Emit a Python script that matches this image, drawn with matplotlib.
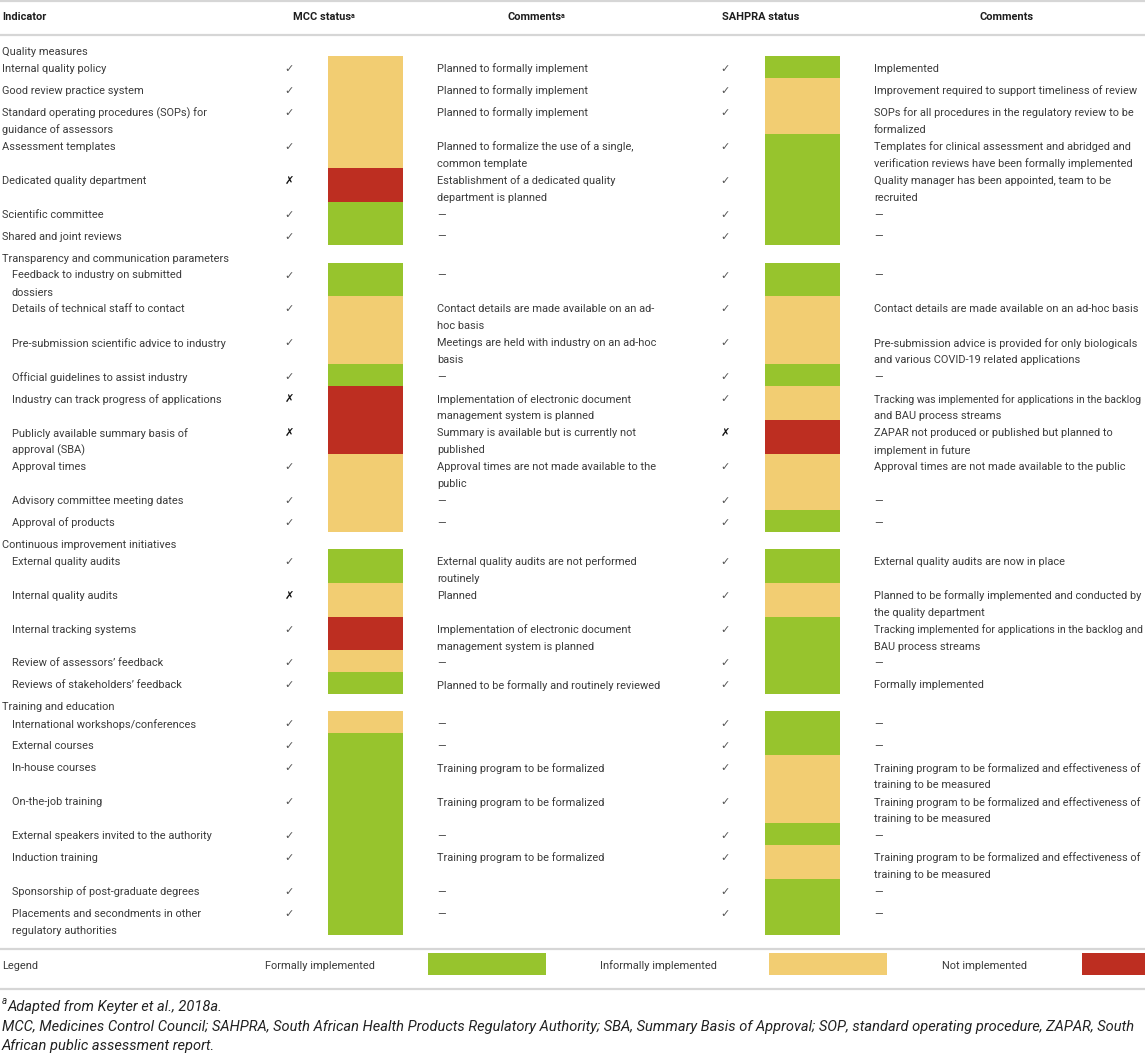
import matplotlib.pyplot as plt

plt.rcParams['font.family'] = ['Roboto', 'DejaVu Sans']

# ---- data -------------------------------------------------------------
sections = ['Quality measures',
            'Transparency and communication parameters',
            'Continuous improvement initiatives',
            'Training and education']
section_starts = [0, 7, 16, 21]

indicators = [
    'Internal quality policy',
    'Good review practice system',
    'Standard operating procedures (SOPs) for\nguidance of assessors',
    'Assessment templates',
    'Dedicated quality department',
    'Scientific committee',
    'Shared and joint reviews',
    'Feedback to industry on submitted\ndossiers',
    'Details of technical staff to contact',
    'Pre-submission scientific advice to industry',
    'Official guidelines to assist industry',
    'Industry can track progress of applications',
    'Publicly available summary basis of\napproval (SBA)',
    'Approval times',
    'Advisory committee meeting dates',
    'Approval of products',
    'External quality audits',
    'Internal quality audits',
    'Internal tracking systems',
    'Review of assessors\u2019 feedback',
    'Reviews of stakeholders\u2019 feedback',
    'International workshops/conferences',
    'External courses',
    'In-house courses',
    'On-the-job training',
    'External speakers invited to the authority',
    'Induction training',
    'Sponsorship of post-graduate degrees',
    'Placements and secondments in other\nregulatory authorities',
]

# Y = yes (check), N = no (cross)
mcc_marks = list('YYYYNYY' 'YYYYNNYYY' 'YNYYY' 'YYYYYYYY')
sahpra_marks = list('YYYYYYY' 'YYYYYNYYY' 'YYYYY' 'YYYYYYYY')

# F = formally, I = informally, N = not implemented
mcc_status = list('IIIINFF' 'FIIFNNIII' 'FINIF' 'IFFFFFFF')
sahpra_status = list('FIIFFFF' 'FIIFINIIF' 'FIFFF' 'FFIIFIFF')

dash = '\u2014'
t_prog = 'Training program to be formalized'
t_prog2 = 'Training program to be formalized and effectiveness of\ntraining to be measured'

mcc_comments = [
    'Planned to formally implement',
    'Planned to formally implement',
    'Planned to formally implement',
    'Planned to formalize the use of a single,\ncommon template',
    'Establishment of a dedicated quality\ndepartment is planned',
    dash, dash,
    dash,
    'Contact details are made available on an ad-\nhoc basis',
    'Meetings are held with industry on an ad-hoc\nbasis',
    dash,
    'Implementation of electronic document\nmanagement system is planned',
    'Summary is available but is currently not\npublished',
    'Approval times are not made available to the\npublic',
    dash, dash,
    'External quality audits are not performed\nroutinely',
    'Planned',
    'Implementation of electronic document\nmanagement system is planned',
    dash,
    'Planned to be formally and routinely reviewed',
    dash, dash, t_prog, t_prog, dash, t_prog, dash, dash,
]

sahpra_comments = [
    'Implemented',
    'Improvement required to support timeliness of review',
    'SOPs for all procedures in the regulatory review to be\nformalized',
    'Templates for clinical assessment and abridged and\nverification reviews have been formally implemented',
    'Quality manager has been appointed, team to be\nrecruited',
    dash, dash,
    dash,
    'Contact details are made available on an ad-hoc basis',
    'Pre-submission advice is provided for only biologicals\nand various COVID-19 related applications',
    dash,
    'Tracking was implemented for applications in the backlog\nand BAU process streams',
    'ZAPAR not produced or published but planned to\nimplement in future',
    'Approval times are not made available to the public',
    dash, dash,
    'External quality audits are now in place',
    'Planned to be formally implemented and conducted by\nthe quality department',
    'Tracking implemented for applications in the backlog and\nBAU process streams',
    dash,
    'Formally implemented',
    dash, dash, t_prog2, t_prog2, dash, t_prog2, dash, dash,
]

legend_labels = ['Formally implemented', 'Informally implemented', 'Not implemented']
legend_keys = ['F', 'I', 'N']

# ---- styling ----------------------------------------------------------
colors = {'F': '#97c42d', 'I': '#f2cd72', 'N': '#bd2e21'}
txt = '#3c3c3c'
rule = '#d6d6d6'
fs = 7.9

W, H = 1145, 1054
fig = plt.figure(figsize=(W / 100, H / 100), dpi=100)
ax = fig.add_axes([0, 0, 1, 1])
ax.set_xlim(0, W)
ax.set_ylim(H, 0)
ax.axis('off')
renderer = fig.canvas.get_renderer()


def fit_text(x, y, s, right, **kw):
    # shrink a line a little if it would run past the right edge of its column
    t = ax.text(x, y, s, fontsize=fs, color=txt, va='center', **kw)
    bb = t.get_window_extent(renderer)
    if bb.x1 > right:
        t.set_fontsize(fs * (right - bb.x0) / bb.width)
    return t


# header
for x, lab, sup in [(2, 'Indicator', False), (293, 'MCC status', True),
                    (507, 'Comments', True), (722, 'SAHPRA status', False),
                    (980, 'Comments', False)]:
    t = ax.text(x, 17, lab, fontsize=fs, fontweight='bold', color='#1e1e1e',
                va='center', ha='left')
    if sup:
        ax.annotate('a', xy=(1, 1), xycoords=t, fontsize=5, fontweight='bold',
                    color='#1e1e1e', va='top', ha='left')

for y in [1, 35, 949, 989]:
    ax.axhline(y, color=rule, lw=1.6)

# body
single, double, sec_h = 21.95, 33.9, 17.0
y = 39.0
cur_sec = 0
for i, ind in enumerate(indicators):
    if i in section_starts:
        cur_sec = section_starts.index(i)
        ax.text(2, y + 13, sections[cur_sec], fontsize=fs, color=txt, va='center')
        y += sec_h
    nl = max(ind.count('\n'), mcc_comments[i].count('\n'),
             sahpra_comments[i].count('\n')) + 1
    h = single if nl == 1 else double
    indent = 2 if cur_sec == 0 else 12
    for k, line in enumerate(ind.split('\n')):
        ax.text(indent, y + 13 + 17 * k, line, fontsize=fs, color=txt, va='center')
    for xm, mark in [(289, mcc_marks[i]), (725, sahpra_marks[i])]:
        if mark == 'Y':
            ax.text(xm, y + 13, '\u2713', fontsize=8, color='#555555',
                    family='DejaVu Sans', va='center', ha='center')
        else:
            ax.text(xm, y + 13, '\u2717', fontsize=8, color='#111111',
                    family='DejaVu Sans', va='center', ha='center')
    ax.bar(365.5, h, bottom=y, width=75, color=colors[mcc_status[i]], linewidth=0)
    ax.bar(802.5, h, bottom=y, width=75, color=colors[sahpra_status[i]], linewidth=0)
    for xc, com, right in [(437, mcc_comments[i], 700), (874, sahpra_comments[i], 1143)]:
        for k, line in enumerate(com.split('\n')):
            fit_text(xc, y + 13 + 17 * k, line, right)
    y += h

# legend row
ax.text(2, 966, 'Legend', fontsize=fs, color=txt, va='center')
for lab, key, xt, xb in zip(legend_labels, legend_keys, [320, 658, 985], [487, 828, 1141]):
    ax.text(xt, 966, lab, fontsize=fs, color=txt, va='center', ha='center')
    ax.bar(xb, 22, bottom=953, width=118, color=colors[key], linewidth=0)

# footnotes
fn = 10.5
ax.text(2, 1001, 'a', fontsize=7, style='italic', color='#222222', va='center')
ax.text(8, 1007, 'Adapted from Keyter et al., 2018a.', fontsize=fn, style='italic',
        color='#222222', va='center')
ax.text(2, 1027, 'MCC, Medicines Control Council; SAHPRA, South African Health Products '
        'Regulatory Authority; SBA, Summary Basis of Approval; SOP, standard operating '
        'procedure, ZAPAR, South', fontsize=fn, style='italic', color='#222222', va='center')
ax.text(2, 1046, 'African public assessment report.', fontsize=fn, style='italic',
        color='#222222', va='center')

fig.savefig('out.png', dpi=100)
